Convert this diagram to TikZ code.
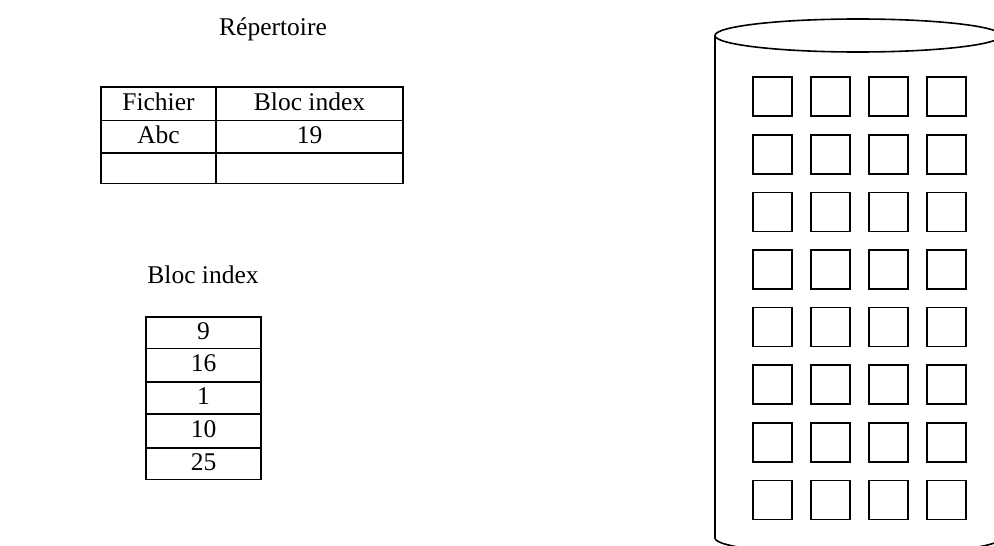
\documentclass[tikz,border=0pt]{standalone}
\usepackage{fontspec}
\setmainfont{Liberation Serif}
\begin{document}
\begin{tikzpicture}[x=1pt,y=-1pt,
  every node/.style={font=\fontsize{25.5}{30}\selectfont},
  cell/.style={draw, line width=1.6pt, inner sep=0pt, text height=18pt, text depth=5pt},
  blk/.style={draw, line width=1.6pt, inner sep=0pt, minimum size=39pt},
  cyl/.style={line width=1.6pt}]
\useasboundingbox (0,0) rectangle (994,546);
\clip (0,0) rectangle (994,546);
% Repertoire
\node[anchor=base] (rep) at (273,35) {Répertoire};
\node[cell, minimum width=115pt, minimum height=33.5pt] (c11) at (158.5,103.75) {Fichier};
\node[cell, minimum width=187pt, minimum height=33.5pt] (c12) at (309.5,103.75) {Bloc index};
\node[cell, minimum width=115pt, minimum height=32.5pt] (c21) at (158.5,136.75) {Abc};
\node[cell, minimum width=187pt, minimum height=32.5pt] (c22) at (309.5,136.75) {19};
\node[cell, minimum width=115pt, minimum height=30.5pt] (c31) at (158.5,168.25) {};
\node[cell, minimum width=187pt, minimum height=30.5pt] (c32) at (309.5,168.25) {};
% Bloc index
\node[anchor=base] (bi) at (203,283) {Bloc index};
\node[cell, minimum width=115pt, minimum height=31.5pt] (b1) at (203.5,332.75) {9};
\node[cell, minimum width=115pt, minimum height=33.2pt] (b2) at (203.5,365.1) {16};
\node[cell, minimum width=115pt, minimum height=32.3pt] (b3) at (203.5,397.85) {1};
\node[cell, minimum width=115pt, minimum height=33.7pt] (b4) at (203.5,430.85) {10};
\node[cell, minimum width=115pt, minimum height=31.6pt] (b5) at (203.5,463.5) {25};
% Cylinder
\coordinate (ctop) at (858,35.5);
\coordinate (tl) at (715,35.5);
\coordinate (bl) at (715,538);
\coordinate (tr) at (1001,35.5);
\coordinate (br) at (1001,538);
\draw[cyl] (ctop) ellipse [x radius=143, y radius=16.5];
\draw[cyl] (tl) -- (bl) arc [start angle=180, end angle=0, x radius=143, y radius=16.5] -- (tr);
% blocks
\foreach \r in {0,...,7}{
  \foreach \c in {0,...,3}{
    \node[blk] (sq-\r-\c) at ({772.75+58*\c},{96.75+57.6*\r}) {};
  }
}
\end{tikzpicture}
\end{document}
